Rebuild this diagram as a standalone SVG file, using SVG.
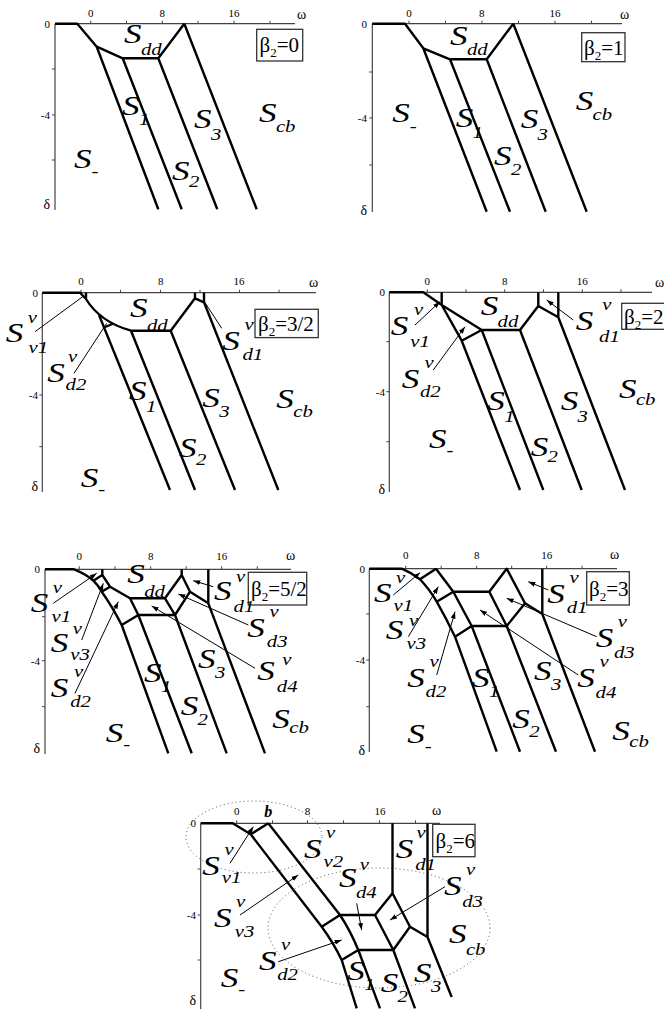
<svg xmlns="http://www.w3.org/2000/svg" width="664" height="1010" viewBox="0 0 664 1010">
<style>
.ax{stroke:#444;stroke-width:1.2;fill:none}
.tk{stroke:#444;stroke-width:1;fill:none}
.bd{stroke:#000;stroke-width:2.4;fill:none;stroke-linejoin:round}
.ld{stroke:#000;stroke-width:1;fill:none}
.la{stroke:#000;stroke-width:1;fill:none;marker-end:url(#ah)}
.SL{font-family:"Liberation Serif","Times New Roman",serif;font-style:italic;font-size:27px}
.sb{font-family:"Liberation Serif","Times New Roman",serif;font-style:italic;font-size:16px}
.tm{font-family:"Liberation Serif","Times New Roman",serif;font-size:11px;text-anchor:middle}
.te{font-family:"Liberation Serif","Times New Roman",serif;font-size:11px;text-anchor:end}
.gr{font-family:"Liberation Serif","Times New Roman",serif;font-size:14px}
.gre{font-family:"Liberation Serif","Times New Roman",serif;font-size:14px;text-anchor:end}
.bx{fill:#fff;stroke:#333;stroke-width:1.3}
.bt{font-family:"Liberation Serif","Times New Roman",serif;font-size:21px}
.dot{fill:none;stroke:#555;stroke-width:1;stroke-dasharray:1 3}
</style>
<defs>
<marker id="ah" viewBox="0 0 10 7" refX="10" refY="3.5" markerWidth="7" markerHeight="5" markerUnits="userSpaceOnUse" orient="auto"><path d="M0,0L10,3.5L0,7z" fill="#000"/></marker>
</defs>
<rect width="664" height="1010" fill="#fff"/>

<!-- Panel 1 -->
<g id="panel1">
<path class="ax" d="M55,23.7H295M55,23.7V210"/>
<path class="tk" d="M90.7,23.7v-3M126.5,23.7v-3M162.3,23.7v-3M198,23.7v-3M234,23.7v-3M270,23.7v-3M55,69h-3M55,115h-3M55,160h-3"/>
<text class="tm" x="90.7" y="16.5">0</text><text class="tm" x="162.3" y="16.5">8</text><text class="tm" x="234" y="16.5">16</text>
<text class="te" x="50" y="27.5">0</text><text class="te" x="50" y="119">-4</text>
<text class="gre" x="50" y="209">δ</text><text class="gr" x="297" y="18.5">ω</text>
<g id="p1-bounds"><path class="bd" d="M55,23.7H77.3L96.7,46.7L122.7,58.3H158.3L184.3,23.7M96.7,46.7L158.3,209.3M122.7,58.3L181.7,209.3M158.3,58.3L217.3,209.3M184.3,23.7L256.7,209.3"/></g>
<g id="p1-box"><rect class="bx" x="256.7" y="29.3" width="46" height="31.7"/><text class="bt" x="259.5" y="52">β<tspan font-size="13" dy="5">2</tspan><tspan dy="-5">=0</tspan></text></g>
<g id="p1-Sdd" transform="translate(124 43) scale(1.3 1)"><text class="SL">S</text><text class="sb" x="13" y="12">dd</text></g>
<g id="p1-S1" transform="translate(122 115) scale(1.3 1)"><text class="SL">S</text><text class="sb" x="13" y="10">1</text></g>
<g id="p1-S3" transform="translate(194 128) scale(1.3 1)"><text class="SL">S</text><text class="sb" x="13" y="12">3</text></g>
<g id="p1-Scb" transform="translate(259 122) scale(1.3 1)"><text class="SL">S</text><text class="sb" x="13" y="10">cb</text></g>
<g id="p1-Sm" transform="translate(74 168) scale(1.3 1)"><text class="SL">S</text><text class="sb" x="13.5" y="9">-</text></g>
<g id="p1-S2" transform="translate(172 180) scale(1.3 1)"><text class="SL">S</text><text class="sb" x="13" y="7">2</text></g>
</g>

<!-- Panel 2 -->
<g id="panel2">
<path class="ax" d="M372.3,23.7H622M372.3,23.7V212"/>
<path class="tk" d="M409,23.7v-3M445.5,23.7v-3M482,23.7v-3M518.5,23.7v-3M555,23.7v-3M591.5,23.7v-3M372.3,72h-3M372.3,118h-3M372.3,165h-3"/>
<text class="tm" x="409" y="16.5">0</text><text class="tm" x="481.7" y="16.5">8</text><text class="tm" x="555" y="16.5">16</text>
<text class="te" x="367" y="27.5">0</text><text class="te" x="367" y="122">-4</text>
<text class="gre" x="367" y="215">δ</text><text class="gr" x="620" y="18.5">ω</text>
<g id="p2-bounds"><path class="bd" d="M372.3,23.7H405L423.3,48.3L450,59.3H486.7L513.3,23.7M423.3,48.3L486.7,211.7M450,59.3L510,211.7M486.7,59.3L545.7,211.7M513.3,23.7L586.7,211.7"/></g>
<g id="p2-box"><rect class="bx" x="581.7" y="32.7" width="43.3" height="29"/><text class="bt" x="584" y="54.5">β<tspan font-size="13" dy="5">2</tspan><tspan dy="-5">=1</tspan></text></g>
<g id="p2-Sdd" transform="translate(450 45) scale(1.3 1)"><text class="SL">S</text><text class="sb" x="13" y="10">dd</text></g>
<g id="p2-Sm" transform="translate(392.3 121.7) scale(1.3 1)"><text class="SL">S</text><text class="sb" x="13.5" y="10">-</text></g>
<g id="p2-S1" transform="translate(455.7 126.7) scale(1.3 1)"><text class="SL">S</text><text class="sb" x="13" y="11.3">1</text></g>
<g id="p2-S3" transform="translate(520.7 128) scale(1.3 1)"><text class="SL">S</text><text class="sb" x="13" y="12">3</text></g>
<g id="p2-S2" transform="translate(494 165) scale(1.3 1)"><text class="SL">S</text><text class="sb" x="13" y="10">2</text></g>
<g id="p2-Scb" transform="translate(575.7 110) scale(1.3 1)"><text class="SL">S</text><text class="sb" x="13" y="10">cb</text></g>
</g>

<!-- Panel 3 -->
<g id="panel3">
<path class="ax" d="M42.3,292.7H316M42.3,292.7V492"/>
<path class="tk" d="M81,292.7v-3M120.5,292.7v-3M160.5,292.7v-3M200,292.7v-3M239.5,292.7v-3M279,292.7v-3M42.3,343.3h-3M42.3,395h-3M42.3,446.7h-3"/>
<text class="tm" x="81" y="284.5">0</text><text class="tm" x="160.7" y="284.5">8</text><text class="tm" x="239" y="284.5">16</text>
<text class="te" x="38" y="296.5">0</text><text class="te" x="38" y="398.5">-4</text>
<text class="gre" x="38" y="491">δ</text><text class="gr" x="309" y="287">ω</text>
<g id="p3-bounds"><path class="bd" d="M42.3,292.7H80L86,299V292.7M86,299Q100,322 131,330.7H170.7L195,298.3V292.7M195,298.3L204,302.3V292.7M99,315L170,490M104,327.5L113.5,323.5M131,330.7L195,490M170.7,330.7L235,490M204,302.3L278.3,490"/></g>
<g id="p3-leaders"><path class="ld" d="M35,331.7L82.7,296.7M74,373.3L106.7,323.3M221.7,328.3L203.3,300"/></g>
<g id="p3-box"><rect class="bx" x="255" y="309.3" width="63.3" height="28.3"/><text class="bt" x="258" y="330.5">β<tspan font-size="13" dy="5">2</tspan><tspan dy="-5">=3/2</tspan></text></g>
<g id="p3-Sv1" transform="translate(5.7 341.7) scale(1.3 1)"><text class="SL">S</text><text class="sb" x="17" y="-19">v</text><text class="sb" x="17.5" y="11.6">v1</text></g>
<g id="p3-Sd2" transform="translate(47.3 381.7) scale(1.3 1)"><text class="SL">S</text><text class="sb" x="16" y="-20">v</text><text class="sb" x="14" y="8">d2</text></g>
<g id="p3-Sd1" transform="translate(222.3 350) scale(1.3 1)"><text class="SL">S</text><text class="sb" x="17" y="-20">v</text><text class="sb" x="15.5" y="10">d1</text></g>
<g id="p3-Sdd" transform="translate(130 317.3) scale(1.3 1)"><text class="SL">S</text><text class="sb" x="13" y="14">dd</text></g>
<g id="p3-S1" transform="translate(129 400) scale(1.3 1)"><text class="SL">S</text><text class="sb" x="13" y="11.7">1</text></g>
<g id="p3-S3" transform="translate(202.3 406.7) scale(1.3 1)"><text class="SL">S</text><text class="sb" x="13" y="10">3</text></g>
<g id="p3-Scb" transform="translate(276.3 408.3) scale(1.3 1)"><text class="SL">S</text><text class="sb" x="13" y="8.4">cb</text></g>
<g id="p3-S2" transform="translate(179 456.7) scale(1.3 1)"><text class="SL">S</text><text class="sb" x="13" y="8.3">2</text></g>
<g id="p3-Sm" transform="translate(80.7 486.7) scale(1.3 1)"><text class="SL">S</text><text class="sb" x="13.5" y="8.3">-</text></g>
</g>

<!-- Panel 4 -->
<g id="panel4">
<path class="ax" d="M389.3,292.3H652M389.3,292.3V492"/>
<path class="tk" d="M427.3,292.3v-3M466,292.3v-3M504.7,292.3v-3M543.5,292.3v-3M582.3,292.3v-3M621,292.3v-3M389.3,341.7h-3M389.3,391.7h-3M389.3,441.7h-3"/>
<text class="tm" x="427.3" y="284.5">0</text><text class="tm" x="504.7" y="284.5">8</text><text class="tm" x="582.3" y="284.5">16</text>
<text class="te" x="385" y="296">0</text><text class="te" x="385" y="395.5">-4</text>
<text class="gre" x="385" y="494">δ</text><text class="gr" x="655" y="287">ω</text>
<g id="p4-bounds"><path class="bd" d="M389.3,292.3H423.3L441.7,305V292.3M441.7,305L481.7,330H520L538.3,306V292.3M538.3,306L558.3,317.3V292.3M441.7,305L461.7,340.7L481.7,330M461.7,340.7L520,490M481.7,330L543.3,490M520,330L581.7,490M558.3,317.3L625,490"/></g>
<g id="p4-leaders"><path class="la" d="M415,325L440,301.7"/><path class="la" d="M433.3,370L465,326.7"/><path class="la" d="M573.3,320L546.7,300"/></g>
<g id="p4-box"><rect class="bx" x="621.7" y="303.3" width="50" height="26"/><text class="bt" x="624" y="323.5">β<tspan font-size="13" dy="5">2</tspan><tspan dy="-5">=2</tspan></text></g>
<g id="p4-Sv1" transform="translate(390.7 335) scale(1.3 1)"><text class="SL">S</text><text class="sb" x="18" y="-20">v</text><text class="sb" x="15" y="12.3">v1</text></g>
<g id="p4-Sd2" transform="translate(401.7 388.3) scale(1.3 1)"><text class="SL">S</text><text class="sb" x="17.5" y="-20">v</text><text class="sb" x="14" y="8.4">d2</text></g>
<g id="p4-Sd1" transform="translate(575.7 330) scale(1.3 1)"><text class="SL">S</text><text class="sb" x="20.5" y="-20">v</text><text class="sb" x="18" y="11.7">d1</text></g>
<g id="p4-Sdd" transform="translate(480.7 315) scale(1.3 1)"><text class="SL">S</text><text class="sb" x="13" y="11.7">dd</text></g>
<g id="p4-Sm" transform="translate(429 448.3) scale(1.3 1)"><text class="SL">S</text><text class="sb" x="13.5" y="7.7">-</text></g>
<g id="p4-S1" transform="translate(487.3 410) scale(1.3 1)"><text class="SL">S</text><text class="sb" x="13" y="11.7">1</text></g>
<g id="p4-S3" transform="translate(560.7 410) scale(1.3 1)"><text class="SL">S</text><text class="sb" x="13" y="11.7">3</text></g>
<g id="p4-S2" transform="translate(530.7 456) scale(1.3 1)"><text class="SL">S</text><text class="sb" x="13" y="6">2</text></g>
<g id="p4-Scb" transform="translate(619 398) scale(1.3 1)"><text class="SL">S</text><text class="sb" x="13" y="7">cb</text></g>
</g>

<!-- Panel 5 -->
<g id="panel5">
<path class="ax" d="M45,569.3H291M45,569.3V754"/>
<path class="tk" d="M79.3,569.3v-3M115,569.3v-3M150.7,569.3v-3M186.2,569.3v-3M221.7,569.3v-3M257.3,569.3v-3M45,616.7h-3M45,660.7h-3M45,706.7h-3"/>
<text class="tm" x="79.3" y="560">0</text><text class="tm" x="150.7" y="560">8</text><text class="tm" x="221.7" y="560">16</text>
<text class="te" x="40" y="573">0</text><text class="te" x="40" y="664.5">-4</text>
<text class="gre" x="40" y="753">δ</text><text class="gr" x="286" y="560">ω</text>
<g id="p5-bounds"><path class="bd" d="M45,569.3H74Q86,574 93.3,580.7L102.3,575V569.3M102.3,575L110,586.7L101.7,591.7M93.3,580.7Q98,585 101.7,591.7Q112,606 121.7,625L168.3,753.3M110,586.7L130,598.3H165L181.7,575V569.3M181.7,575L190,591.7L208.3,603.3V569.3M130,598.3L138.3,615L121.7,625M138.3,615H175L190,591.7M165,598.3L175,615M138.3,615L191.7,753.3M175,615L226.7,753.3M208.3,603.3L265,753.3"/></g>
<g id="p5-leaders"><path class="la" d="M53.3,603.3L96.7,573.3"/><path class="la" d="M81.7,640L103.3,583.3"/><path class="la" d="M75,693.3L118.3,601.7"/><path class="la" d="M213.3,586.7L193.3,580.7"/><path class="la" d="M248.3,625L178.3,594"/><path class="la" d="M255,668.3L151.7,606"/></g>
<g id="p5-box"><rect class="bx" x="248.3" y="572.3" width="58.4" height="32.7"/><text class="bt" x="251" y="596">β<tspan font-size="13" dy="5">2</tspan><tspan dy="-5">=5/2</tspan></text></g>
<g id="p5-Sv1" transform="translate(30.7 611.7) scale(1.3 1)"><text class="SL">S</text><text class="sb" x="17" y="-18.4">v</text><text class="sb" x="16" y="10">v1</text></g>
<g id="p5-Sv3" transform="translate(50.7 651.7) scale(1.3 1)"><text class="SL">S</text><text class="sb" x="17" y="-18">v</text><text class="sb" x="15" y="8.3">v3</text></g>
<g id="p5-Sd2" transform="translate(50.7 696.7) scale(1.3 1)"><text class="SL">S</text><text class="sb" x="18" y="-20">v</text><text class="sb" x="15" y="10">d2</text></g>
<g id="p5-Sd1" transform="translate(214 600) scale(1.3 1)"><text class="SL">S</text><text class="sb" x="17" y="-18.3">v</text><text class="sb" x="15" y="11.7">d1</text></g>
<g id="p5-Sd3" transform="translate(247.3 636.7) scale(1.3 1)"><text class="SL">S</text><text class="sb" x="17" y="-20">v</text><text class="sb" x="15" y="10.5">d3</text></g>
<g id="p5-Sd4" transform="translate(257.3 680) scale(1.3 1)"><text class="SL">S</text><text class="sb" x="19.2" y="-15.5">v</text><text class="sb" x="15" y="11.7">d4</text></g>
<g id="p5-Sdd" transform="translate(127.3 583.3) scale(1.3 1)"><text class="SL">S</text><text class="sb" x="13" y="13.4">dd</text></g>
<g id="p5-S1" transform="translate(144 681.7) scale(1.3 1)"><text class="SL">S</text><text class="sb" x="13" y="10">1</text></g>
<g id="p5-S3" transform="translate(198 668.3) scale(1.3 1)"><text class="SL">S</text><text class="sb" x="13" y="10">3</text></g>
<g id="p5-S2" transform="translate(180.7 715) scale(1.3 1)"><text class="SL">S</text><text class="sb" x="13" y="10">2</text></g>
<g id="p5-Scb" transform="translate(272.3 728.3) scale(1.3 1)"><text class="SL">S</text><text class="sb" x="13" y="5">cb</text></g>
<g id="p5-Sm" transform="translate(105.7 741.7) scale(1.3 1)"><text class="SL">S</text><text class="sb" x="13.5" y="8.3">-</text></g>
</g>

<!-- Panel 6 -->
<g id="panel6">
<path class="ax" d="M369.3,568.7H617M369.3,568.7V752"/>
<path class="tk" d="M405.7,568.7v-3M441.2,568.7v-3M476.7,568.7v-3M511.7,568.7v-3M546.7,568.7v-3M582,568.7v-3M369.3,614h-3M369.3,660h-3M369.3,706.7h-3"/>
<text class="tm" x="405.7" y="559">0</text><text class="tm" x="476.7" y="559">8</text><text class="tm" x="546.7" y="559">16</text>
<text class="te" x="365" y="572.5">0</text><text class="te" x="365" y="663.8">-4</text>
<text class="gre" x="365" y="755">δ</text><text class="gr" x="610" y="559">ω</text>
<g id="p6-bounds"><path class="bd" d="M369.3,568.7H401.7Q412,573 420,579.3L436,568.7M420,579.3Q430,590 436.7,601.7Q446,618 455,636.7L496.7,751.7M436,568.7L453.3,591.7L436.7,601.7M453.3,591.7H489.3L506.7,568.7L525,603.3L542.3,614V568.7M453.3,591.7L471.7,626L455,636.7M471.7,626H506.7L525,603.3M489.3,591.7L506.7,626M471.7,626L520,751.7M506.7,626L556,751.7M542.3,614L595,751.7"/></g>
<g id="p6-leaders"><path class="la" d="M393.3,595L420,572.7"/><path class="la" d="M408.3,636.7L438.3,586.7"/><path class="la" d="M436.7,675L455,611.7"/><path class="la" d="M548.3,590L528.3,581.7"/><path class="la" d="M596.7,636.7L506.7,598.3"/><path class="la" d="M578.3,675L480,610"/></g>
<g id="p6-box"><rect class="bx" x="586.7" y="571.7" width="42.6" height="33.3"/><text class="bt" x="589" y="595.5">β<tspan font-size="13" dy="5">2</tspan><tspan dy="-5">=3</tspan></text></g>
<g id="p6-Sv1" transform="translate(374 602) scale(1.3 1)"><text class="SL">S</text><text class="sb" x="17" y="-19">v</text><text class="sb" x="15" y="9">v1</text></g>
<g id="p6-Sv3" transform="translate(385.7 639) scale(1.3 1)"><text class="SL">S</text><text class="sb" x="18" y="-13.5">v</text><text class="sb" x="16" y="10">v3</text></g>
<g id="p6-Sd2" transform="translate(407.3 686.7) scale(1.3 1)"><text class="SL">S</text><text class="sb" x="17" y="-20">v</text><text class="sb" x="14" y="10">d2</text></g>
<g id="p6-Sd1" transform="translate(547.3 603.3) scale(1.3 1)"><text class="SL">S</text><text class="sb" x="17" y="-20">v</text><text class="sb" x="15" y="10">d1</text></g>
<g id="p6-Sd3" transform="translate(595.7 646.7) scale(1.3 1)"><text class="SL">S</text><text class="sb" x="17" y="-20">v</text><text class="sb" x="14" y="11.6">d3</text></g>
<g id="p6-Sd4" transform="translate(577.3 686.7) scale(1.3 1)"><text class="SL">S</text><text class="sb" x="17" y="-20">v</text><text class="sb" x="14" y="11.6">d4</text></g>
<g id="p6-S1" transform="translate(472 686.7) scale(1.3 1)"><text class="SL">S</text><text class="sb" x="13" y="10">1</text></g>
<g id="p6-S3" transform="translate(534 680) scale(1.3 1)"><text class="SL">S</text><text class="sb" x="13" y="10">3</text></g>
<g id="p6-S2" transform="translate(512.3 728.3) scale(1.3 1)"><text class="SL">S</text><text class="sb" x="13" y="8.4">2</text></g>
<g id="p6-Scb" transform="translate(612.3 740) scale(1.3 1)"><text class="SL">S</text><text class="sb" x="13" y="6.7">cb</text></g>
<g id="p6-Sm" transform="translate(407.3 743.3) scale(1.3 1)"><text class="SL">S</text><text class="sb" x="13.5" y="8.4">-</text></g>
</g>

<!-- Panel 7 -->
<g id="panel7">
<ellipse class="dot" cx="254" cy="837" rx="68" ry="36"/>
<ellipse class="dot" cx="379" cy="928" rx="111" ry="60"/>
<path class="ax" d="M200.7,823.3H440M200.7,823.3V1009"/>
<path class="tk" d="M236.7,823.3v-3M272.5,823.3v-3M307.5,823.3v-3M343.5,823.3v-3M379.5,823.3v-3M415.5,823.3v-3M200.7,869h-3M200.7,915h-3M200.7,960h-3"/>
<text class="tm" x="236.7" y="815">0</text><text class="tm" x="307.5" y="815">8</text><text class="tm" x="380" y="815">16</text>
<text x="268.3" y="816.7" font-family="Liberation Serif, Times New Roman, serif" font-size="16" font-weight="bold" font-style="italic" text-anchor="middle">b</text>
<text class="te" x="196" y="827">0</text><text class="te" x="196" y="919">-4</text>
<text class="gre" x="196" y="1005">δ</text><text class="gr" x="432" y="815">ω</text>
<g id="p7-bounds"><path class="bd" d="M200.7,823.3H232.7L250.7,834.3L268.3,823.3M250.7,834.3L321.7,926.7Q333,942 341.7,960L356.7,1008.3M268.3,823.3L340,915Q350,930 358.3,950L380,1008.3M321.7,926.7L340,915H375L392.5,893.3V823.3M392.5,893.3L410,926.7L427.5,937V823.3M410,926.7L393.3,950L375,915M341.7,960L358.3,950H393.3L415,1008.3M427.5,937L451.7,997"/></g>
<g id="p7-leaders"><path class="la" d="M230,863.3L253.3,826.7"/><path class="la" d="M356.7,903.3L361.7,930"/><path class="la" d="M445,886.7L390,920"/><path class="la" d="M240,915L298.3,875"/><path class="la" d="M278.3,961.7L341.7,940"/></g>
<g id="p7-box"><rect class="bx" x="432.7" y="824.3" width="42.3" height="32.4"/><text class="bt" x="435.5" y="848">β<tspan font-size="13" dy="5">2</tspan><tspan dy="-5">=6</tspan></text></g>
<g id="p7-Sv1" transform="translate(202.3 875) scale(1.3 1)"><text class="SL">S</text><text class="sb" x="17" y="-20">v</text><text class="sb" x="15" y="8.3">v1</text></g>
<g id="p7-Sv2" transform="translate(304 858.3) scale(1.3 1)"><text class="SL">S</text><text class="sb" x="17" y="-20">v</text><text class="sb" x="15" y="8.4">v2</text></g>
<g id="p7-Sd4" transform="translate(339 886.7) scale(1.3 1)"><text class="SL">S</text><text class="sb" x="16" y="-17">v</text><text class="sb" x="13" y="11.6">d4</text></g>
<g id="p7-Sd1" transform="translate(395.7 858.3) scale(1.3 1)"><text class="SL">S</text><text class="sb" x="16" y="-20">v</text><text class="sb" x="15" y="11.7">d1</text></g>
<g id="p7-Sd3" transform="translate(444 895) scale(1.3 1)"><text class="SL">S</text><text class="sb" x="17" y="-20">v</text><text class="sb" x="14" y="11.7">d3</text></g>
<g id="p7-Sv3" transform="translate(214 927) scale(1.3 1)"><text class="SL">S</text><text class="sb" x="17" y="-20">v</text><text class="sb" x="16" y="10">v3</text></g>
<g id="p7-Sd2" transform="translate(259 970) scale(1.3 1)"><text class="SL">S</text><text class="sb" x="17" y="-20">v</text><text class="sb" x="14" y="10">d2</text></g>
<g id="p7-Scb" transform="translate(449 943.3) scale(1.3 1)"><text class="SL">S</text><text class="sb" x="13" y="11.7">cb</text></g>
<g id="p7-Sm" transform="translate(220.7 986.7) scale(1.3 1)"><text class="SL">S</text><text class="sb" x="13.5" y="8.3">-</text></g>
<g id="p7-S1" transform="translate(347.3 980) scale(1.3 1)"><text class="SL">S</text><text class="sb" x="13" y="10">1</text></g>
<g id="p7-S2" transform="translate(380.7 991.7) scale(1.3 1)"><text class="SL">S</text><text class="sb" x="13" y="10">2</text></g>
<g id="p7-S3" transform="translate(414 981.7) scale(1.3 1)"><text class="SL">S</text><text class="sb" x="13" y="10">3</text></g>
</g>
</svg>
